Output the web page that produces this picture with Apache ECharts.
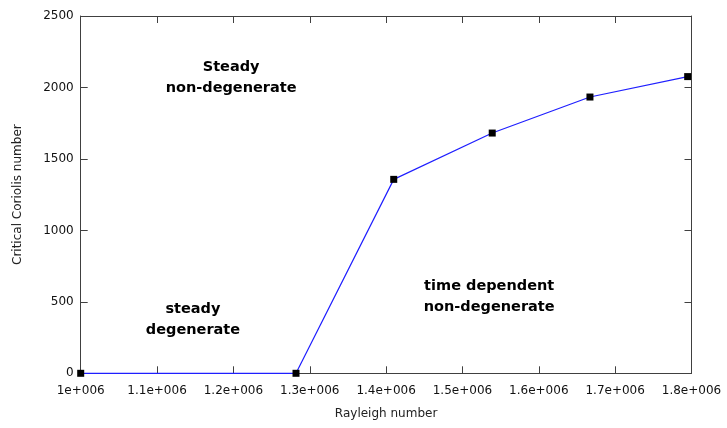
<!DOCTYPE html>
<html>
<head>
<meta charset="utf-8">
<script src="https://cdn.jsdelivr.net/npm/echarts@6/dist/echarts.min.js"></script>
<style>html,body{margin:0;padding:0;background:#fff}#c{width:727px;height:428px}</style>
</head>
<body>
<div id="c"></div>
<script>
// Data
var rayleigh = [1.0e6, 1.282e6, 1.41e6, 1.539e6, 1.667e6, 1.795e6];
var coriolis = [0, 0, 1357, 1681, 1933, 2076];
var xTicks = [1.0e6, 1.1e6, 1.2e6, 1.3e6, 1.4e6, 1.5e6, 1.6e6, 1.7e6, 1.8e6];
var yTicks = [0, 500, 1000, 1500, 2000, 2500];
var annotationText = ["Steady\nnon-degenerate", "steady\ndegenerate", "time dependent\nnon-degenerate"];
var annotationX = [1.197e6, 1.147e6, 1.535e6];
var annotationY = [2070, 373, 535];

function fmtX(v) {
  var e = Math.round(v / 1e5) / 10;
  var s = (e === 1) ? '1' : e.toFixed(1);
  return s + 'e+006';
}

var chart = echarts.init(document.getElementById('c'));
var axisCol = '#404040';
function common() {
  return {
    axisLine: { show: true, onZero: false, lineStyle: { color: axisCol, width: 1 } },
    axisTick: { show: true, inside: true, length: 7, lineStyle: { color: axisCol } },
    splitLine: { show: false }
  };
}
chart.setOption({
  animation: false,
  grid: { left: 80.7, right: 35.5, top: 16, bottom: 54.7, show: false },
  xAxis: [
    Object.assign(common(), {
      type: 'value', min: xTicks[0], max: xTicks[xTicks.length - 1], interval: 1e5,
      name: 'Rayleigh number', nameLocation: 'middle', nameGap: 35,
      nameTextStyle: { fontFamily: 'DejaVu Sans', fontSize: 12, color: '#222' },
      axisLabel: { formatter: fmtX, fontFamily: 'DejaVu Sans', fontSize: 12, color: '#111', margin: 12, showMaxLabel: true, showMinLabel: true }
    }),
    Object.assign(common(), {
      type: 'value', position: 'top', min: xTicks[0], max: xTicks[xTicks.length - 1], interval: 1e5,
      axisLabel: { show: false }
    })
  ],
  yAxis: [
    Object.assign(common(), {
      type: 'value', min: yTicks[0], max: yTicks[yTicks.length - 1], interval: 500,
      name: 'Critical Coriolis number', nameLocation: 'middle', nameGap: 57,
      nameTextStyle: { fontFamily: 'DejaVu Sans', fontSize: 12, color: '#222' },
      axisLabel: { formatter: function (v) { return String(v); }, fontFamily: 'DejaVu Sans', fontSize: 12, color: '#111', margin: 7 }
    }),
    Object.assign(common(), {
      type: 'value', position: 'right', min: yTicks[0], max: yTicks[yTicks.length - 1], interval: 500,
      axisLabel: { show: false }
    })
  ],
  series: [
    {
      type: 'line',
      data: rayleigh.map(function (x, i) { return [x, coriolis[i]]; }),
      symbol: 'rect', symbolSize: 7,
      itemStyle: { color: '#000', opacity: 1 },
      lineStyle: { color: '#1f1fff', width: 1.2 },
      z: 3
    },
    {
      type: 'scatter',
      symbolSize: 0,
      silent: true,
      itemStyle: { opacity: 1 },
      data: annotationX.map(function (x, i) { return { value: [x, annotationY[i]], name: annotationText[i] }; }),
      label: {
        show: true, position: 'inside', formatter: function (p) { return p.name; },
        fontFamily: 'DejaVu Sans', fontWeight: 'bold', fontSize: 14.5, color: '#000', opacity: 1,
        textBorderWidth: 0, textBorderColor: 'transparent',
        lineHeight: 21, align: 'center', verticalAlign: 'middle'
      }
    }
  ]
});
</script>
</body>
</html>
